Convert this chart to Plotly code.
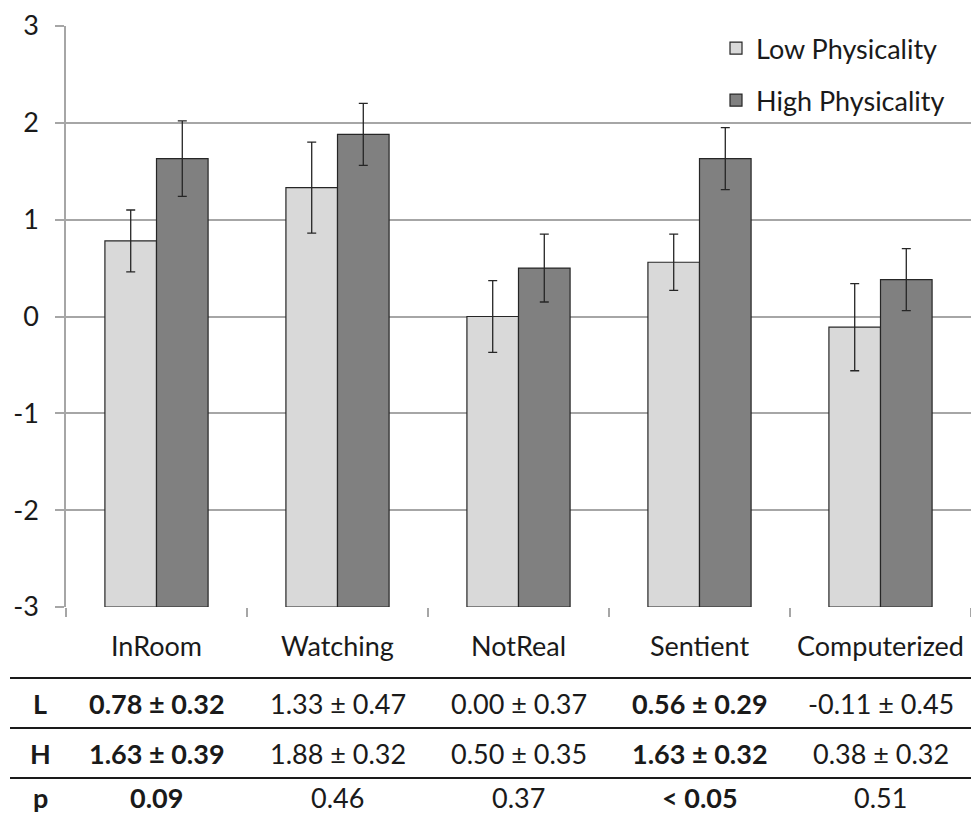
import plotly.graph_objects as go

# Ratings per question, low vs high physicality condition
categories = ["InRoom", "Watching", "NotReal", "Sentient", "Computerized"]
low_mean = [0.78, 1.33, 0.00, 0.56, -0.11]
low_err = [0.32, 0.47, 0.37, 0.29, 0.45]
high_mean = [1.63, 1.88, 0.50, 1.63, 0.38]
high_err = [0.39, 0.32, 0.35, 0.32, 0.32]
p_values = ["0.09", "0.46", "0.37", "< 0.05", "0.51"]
significant = [True, False, False, True, False]
y_ticks = [-3, -2, -1, 0, 1, 2, 3]
y_tick_labels = ["-3", "-2", "-1", "0", "1", "2", "3"]

Y_MIN, Y_MAX = -3, 3
W, H = 971, 817
M_L, M_R, M_T, M_B = 66, 0, 26, 210
FONT = "Lato"
FS = 27
TXT = "#1a1a1a"


def px_x(px):
    return (px - M_L) / (W - M_L - M_R)


def px_y(py):
    return (H - M_B - py) / (H - M_T - M_B)


fig = go.Figure()
for name, means, errs, color in [
    ("Low Physicality", low_mean, low_err, "#d9d9d9"),
    ("High Physicality", high_mean, high_err, "#808080"),
]:
    fig.add_trace(go.Bar(
        name=name,
        x=categories,
        y=[m - Y_MIN for m in means],
        base=Y_MIN,
        marker=dict(color=color, line=dict(color="#262626", width=1.2)),
        error_y=dict(type="data", array=errs, color="#262626",
                     thickness=1.3, width=4.5),
        legendgroup=name,
        hoverinfo="skip",
    ))

# Summary table below the chart
row_ys = [703, 753, 797]
rows = [
    ("L", [f"{m:.2f} ± {e:.2f}" for m, e in zip(low_mean, low_err)]),
    ("H", [f"{m:.2f} ± {e:.2f}" for m, e in zip(high_mean, high_err)]),
    ("p", p_values),
]
annotations = []
for (label, cells), ry in zip(rows, row_ys):
    annotations.append(dict(
        x=px_x(40), y=px_y(ry), xref="paper", yref="paper",
        text=f"<b>{label}</b>", showarrow=False,
        font=dict(family=FONT, size=FS, color=TXT),
        xanchor="center", yanchor="middle"))
    for cat, cell, bold in zip(categories, cells, significant):
        annotations.append(dict(
            x=cat, y=px_y(ry), xref="x", yref="paper",
            text=f"<b>{cell}</b>" if bold else cell, showarrow=False,
            font=dict(family=FONT, size=FS, color=TXT),
            xanchor="center", yanchor="middle"))

shapes = []
for ly in [678, 728, 778]:
    shapes.append(dict(type="line", xref="paper", yref="paper",
                       x0=px_x(10), x1=px_x(971), y0=px_y(ly), y1=px_y(ly),
                       line=dict(color="#1a1a1a", width=2)))

fig.update_layout(
    width=W, height=H,
    margin=dict(l=M_L, r=M_R, t=M_T, b=M_B),
    paper_bgcolor="white", plot_bgcolor="white",
    barmode="group", bargap=0.43, bargroupgap=0,
    font=dict(family=FONT, size=FS, color=TXT),
    showlegend=True,
    legend=dict(x=px_x(716), y=px_y(24), xanchor="left", yanchor="top",
                traceorder="grouped", tracegroupgap=14,
                font=dict(family=FONT, size=FS, color=TXT),
                bgcolor="rgba(0,0,0,0)", itemwidth=30),
    xaxis=dict(
        type="category", showgrid=False,
        showline=False, ticks="outside", tickson="boundaries",
        ticklen=9, tickcolor="#a6a6a6", tickwidth=1.5,
        ticklabelstandoff=21,
        tickfont=dict(family=FONT, size=FS, color=TXT),
        range=[-0.5, 4.5], fixedrange=True,
    ),
    yaxis=dict(
        range=[Y_MIN, Y_MAX], tickvals=y_ticks, ticktext=y_tick_labels,
        showgrid=True, gridcolor="#a6a6a6", gridwidth=1.5,
        showline=True, linecolor="#a6a6a6", linewidth=1.5,
        ticks="outside", ticklen=9, tickcolor="#a6a6a6", tickwidth=1.5,
        ticklabelstandoff=11, zeroline=False,
        tickfont=dict(family=FONT, size=FS, color=TXT),
        fixedrange=True,
    ),
    annotations=annotations,
    shapes=shapes,
)

fig.write_html("out.html")
